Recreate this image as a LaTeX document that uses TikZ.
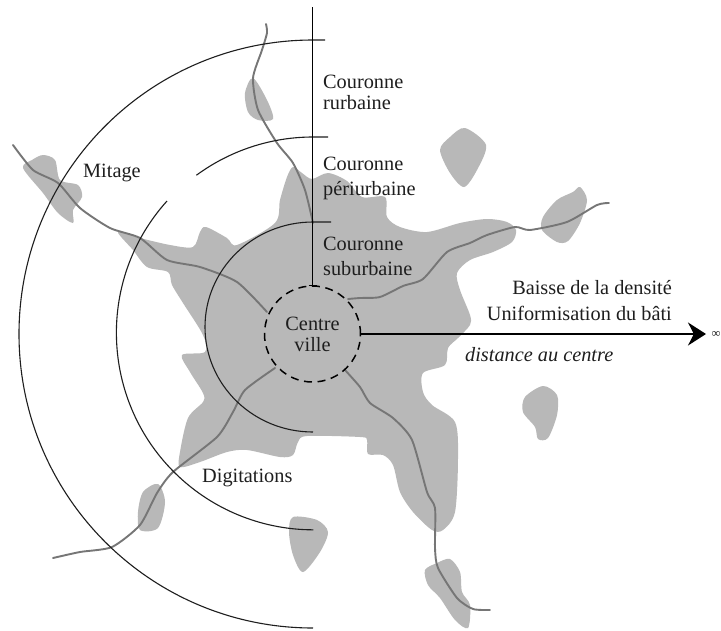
\documentclass[tikz,border=0pt]{standalone}
\usepackage{fontspec}
\setmainfont{Liberation Serif}
\usetikzlibrary{arrows.meta}
\tikzset{
  blob/.style={fill=blobgray,draw=none,smooth cycle,tension=0.5},
  road/.style={draw=roadgray,line width=1.9pt,line cap=round,line join=round},
  ring/.style={draw=inkdark,line width=1.1pt},
  lab/.style={inner sep=0pt,text=inkdark,font=\fontsize{20.3}{21}\selectfont},
}
\definecolor{blobgray}{RGB}{184,184,184}
\definecolor{roadgray}{RGB}{118,118,118}
\definecolor{inkdark}{RGB}{30,30,30}
\begin{document}
\begin{tikzpicture}[x=1pt,y=-1pt]
\clip (0,0) rectangle (721,630);
\fill[white] (0,0) rectangle (721,630);
% urban blob
\path[blob] plot coordinates {(293,167) (302,173) (312,179) (328,173) (347,181) (362,197) (385,197) (387,217) (400,227) (427,232) (460,223) (487,219) (507,222) (516,230) (512,242) (493,252) (470,260) (457,273) (460,290) (470,315) (470,325) (458,338) (448,348) (445,365) (423,373) (423,392) (432,405) (455,422) (458,458) (455,512) (443,530) (432,530) (413,512) (400,492) (393,465) (383,455) (368,454) (367,440) (360,437) (307,436) (298,442) (293,455) (280,457) (247,450) (227,452) (200,462) (180,467) (180,452) (188,418) (203,402) (203,393) (190,372) (182,355) (205,352) (203,335) (183,303) (172,285) (168,272) (147,267) (133,250) (118,232) (140,238) (170,245) (193,247) (200,232) (206,227) (227,238) (237,245) (275,223) (280,200) (287,177)};
% satellites
\path[blob] plot coordinates {(253,78) (245,93) (248,112) (258,120) (273,119) (267,100)};
\path[blob] plot coordinates {(23,168) (32,160) (43,155) (55,160) (60,180) (78,185) (82,197) (73,210) (73,223) (58,213) (43,193)};
\path[blob] plot coordinates {(465,128) (486,145) (477,170) (464,187) (450,173) (440,150) (450,137)};
\path[blob] plot coordinates {(580,187) (587,200) (580,223) (568,241) (557,242) (542,230) (543,217) (557,200) (573,192)};
\path[blob] plot coordinates {(543,386) (557,395) (557,415) (548,438) (538,439) (535,427) (523,412) (525,397)};
\path[blob] plot coordinates {(450,559) (460,572) (462,592) (470,605) (468,628) (455,620) (440,598) (428,585) (425,570) (437,563)};
\path[blob] plot coordinates {(293,517) (317,520) (328,532) (320,552) (303,572) (293,555) (289,532)};
\path[blob] plot coordinates {(158,484) (165,502) (158,528) (140,530) (138,512) (143,492)};
% roads
\path[road] plot[smooth,tension=.4] coordinates {(266,24) (267,33) (262,50) (253,78) (258,110) (277,143) (293,163) (305,190) (313,223)};
\path[road] plot[smooth,tension=.4] coordinates {(13,145) (33,170) (58,183) (80,208) (110,228) (140,238) (167,260) (200,267) (237,282) (267,312)};
\path[road] plot[smooth,tension=.4] coordinates {(348,299) (360,298) (380,297) (403,286) (423,279) (447,252) (470,243) (487,235) (515,227) (530,230) (567,222) (597,205) (609,203)};
\path[road] plot[smooth,tension=.4] coordinates {(275,368) (245,390) (233,412) (217,437) (173,472) (157,493) (140,525) (112,547) (80,552) (53,558)};
\path[road] plot[smooth,tension=.4] coordinates {(345,370) (360,387) (370,403) (393,418) (412,440) (427,492) (435,508) (435,548) (438,568) (457,598) (473,609) (490,610)};
% rings
\draw[ring] (331,222) -- (313,222) arc[start angle=90,end angle=270,x radius=108pt,y radius=105pt];
\draw[ring] (328,137) -- (313,137) arc[start angle=90,end angle=126.3,radius=197pt];
\draw[ring] (167,201) arc[start angle=138,end angle=270,radius=197pt];
\draw[ring] (325,40) -- (313,40) arc[start angle=90,end angle=270,radius=294pt];
% centre
\node[circle,draw=black,dash pattern=on 8pt off 5.6pt,line width=1.5pt,minimum size=96pt,inner sep=0pt,lab,align=center] (cv) at (312.5,334) {Centre\\ville};
\coordinate (axtop) at (312.5,7);
\coordinate (tip) at (706,334);
\draw[black,line width=1.2pt] (axtop) -- (cv.north);
\draw[black,line width=1.2pt] ([xshift=-4pt]cv.north) -- ([xshift=4pt]cv.north);
\draw[black,line width=1.6pt,-{Stealth[length=18pt,width=23pt]}] (cv.east) -- (tip);
% labels
\node[lab,anchor=west,align=left] (l1) at (323,92) {Couronne\\rurbaine};
\node[lab,anchor=west,align=left,font=\fontsize{20.3}{25}\selectfont] (l2) at (323,178) {Couronne\\périurbaine};
\node[lab,anchor=west,align=left,font=\fontsize{20.3}{25}\selectfont] (l3) at (323,256) {Couronne\\suburbaine};
\node[lab,anchor=east] (b1) at (672,288) {Baisse de la densité};
\node[lab,anchor=east] (b2) at (672,313) {Uniformisation du bâti};
\node[lab,anchor=west,font=\fontsize{20.3}{21}\itshape] (d) at (465,355) {distance au centre};
\node[lab,anchor=west] (mi) at (83,173) {Mitage};
\node[lab,anchor=west] (di) at (202,478) {Digitations};
\node[lab,anchor=west,font=\fontsize{12.5}{14}\selectfont] (inf) at (711.5,334) {∞};
\end{tikzpicture}
\end{document}
